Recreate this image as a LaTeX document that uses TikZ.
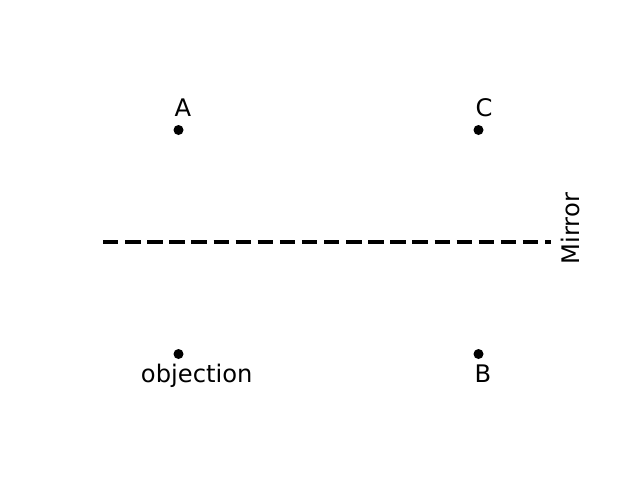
\documentclass[tikz,border=0pt]{standalone}
\usepackage{fontspec}
\setmainfont{DejaVu Sans}
\begin{document}
\begin{tikzpicture}[x=1pt,y=-1pt,
  pt/.style={circle,fill=black,inner sep=0pt,minimum size=10pt},
  lbl/.style={inner sep=0pt,font=\fontsize{24.2pt}{28pt}\selectfont},
  mirrorline/.style={line width=4.2pt,dash pattern=on 15.4pt off 6.7pt}]
\useasboundingbox (0,0) rectangle (640,480);
\node[pt] (pA) at (178.5,130) {};
\node[pt] (pC) at (478.5,130) {};
\node[pt] (pO) at (178.5,354) {};
\node[pt] (pB) at (478.5,354) {};
\node[lbl,anchor=base] (tA) at (183,116.5) {A};
\node[lbl,anchor=base] (tC) at (484,116.5) {C};
\node[lbl,anchor=base] (tO) at (196.7,382) {objection};
\node[lbl,anchor=base] (tB) at (483,382) {B};
\coordinate (m1) at (103,241.8);
\coordinate (m2) at (551,241.8);
\draw[mirrorline] (m1) -- (m2);
\node[lbl,rotate=90,anchor=center] (tM) at (570.3,228.7) {Mirror};
\end{tikzpicture}
\end{document}
